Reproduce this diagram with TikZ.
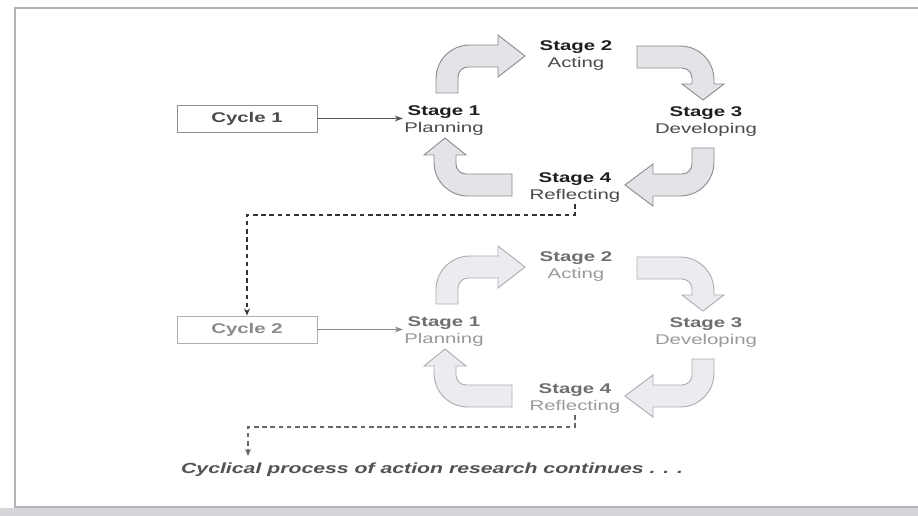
\documentclass[tikz,border=0pt]{standalone}
\usepackage{fontspec}
\setmainfont{Liberation Sans}[FakeStretch=1.45]
\usetikzlibrary{arrows.meta,calc}

\definecolor{framegray}{HTML}{B4B4B8}
\definecolor{scangray}{HTML}{D6D6DA}
\definecolor{fillcol1}{HTML}{E4E4E8}
\definecolor{fillcol2}{HTML}{ECECF0}
\definecolor{edgecol1}{HTML}{8E8E92}
\definecolor{edgecol2}{HTML}{AEAEB2}
\definecolor{stagecol1}{HTML}{1E1E1E}
\definecolor{stagecol2}{HTML}{6E6E6E}
\definecolor{subcol1}{HTML}{4A4A4A}
\definecolor{subcol2}{HTML}{9A9A9A}
\definecolor{linkcol1}{HTML}{555555}
\definecolor{linkcol2}{HTML}{8A8A8A}

% bent block arrow: position, rotation, stem length, reach, head length
\newcommand{\bentarrow}[6]{%
  \begin{scope}[shift={#1},rotate=#2]
    \filldraw[fill=fillcol#6,draw=edgecol#6,line width=0.8pt]
      (0,0) -- (0,{-#3+23}) .. controls (0,{-#3+4}) and (15,{-#3-11}) .. (34,{-#3-11})
      -- ({#4+11-#5},{-#3-11}) -- ({#4+11-#5},{-#3-21}) -- ({#4+11},{-#3})
      -- ({#4+11-#5},{-#3+21}) -- ({#4+11-#5},{-#3+11}) -- (32,{-#3+11})
      .. controls (26.5,{-#3+11}) and (22,{-#3+15.5}) .. (22,{-#3+21}) -- (22,0) -- cycle;
  \end{scope}}

\tikzset{
  stage/.style={align=center,inner sep=1pt,font=\fontsize{12}{14.5}\selectfont},
  cycbox/.style={draw,line width=0.8pt,minimum width=4.2cm,minimum height=0.81cm,
    inner sep=0pt,font=\fontsize{12}{14}\selectfont\bfseries},
  flow/.style={dashed,dash pattern=on 4pt off 3pt,-{Stealth[length=6pt,width=5pt]}},
  note/.style={font=\fontsize{12.5}{15}\selectfont\bfseries\itshape,text=black!68}
}

\begin{document}
\begin{tikzpicture}[x=0.03cm,y=-0.03cm]
  \useasboundingbox (0,0) rectangle (918,516);
  \fill[white] (0,0) rectangle (918,516);
  \fill[scangray] (0,508) rectangle (918,516);
  \draw[framegray,line width=1.2pt] (918,8) -- (15,8) -- (15,507) -- (918,507);

  \foreach \c/\dy in {1/0,2/211} {
    \node[cycbox,draw=edgecol\c,text=stagecol\c!80!white] (cyc\c) at (247,{118.5+\dy}) {Cycle \c};
    \node[stage,text=stagecol\c] (s1-\c) at (444,{121+\dy}) {\textbf{Stage 1}\\{\color{subcol\c}Planning}};
    \node[stage,text=stagecol\c] (s2-\c) at (576,{56+\dy}) {\textbf{Stage 2}\\{\color{subcol\c}Acting}};
    \node[stage,text=stagecol\c] (s3-\c) at (706,{122+\dy}) {\textbf{Stage 3}\\{\color{subcol\c}Developing}};
    \node[stage,text=stagecol\c] (s4-\c) at (575,{188+\dy}) {\textbf{Stage 4}\\{\color{subcol\c}Reflecting}};
    \draw[linkcol\c,line width=1.2pt,-{Stealth[length=7pt,width=5pt]}]
      (cyc\c.east) -- (cyc\c.east -| s1-\c.west);
    \bentarrow{(436,{93+\dy})}{0}{37}{78}{27}{\c}
    \bentarrow{(637,{46+\dy})}{-90}{66}{43}{16}{\c}
    \bentarrow{(714,{148+\dy})}{180}{37}{78}{28}{\c}
    \bentarrow{(512,{196+\dy})}{90}{67}{47}{17}{\c}
  }

  \coordinate (turn1) at (575,215);
  \coordinate (turn2) at (575,427);
  \coordinate (stop) at (248,456);
  \node[note,anchor=west] (note) at (177,470) {Cyclical process of action research continues . . .};

  \draw[flow,black!80,line width=1.3pt] (s4-1.south) |- (turn1) -| (cyc2.north);
  \draw[flow,black!60,line width=1pt] (s4-2.south) |- (turn2) -| (stop);
\end{tikzpicture}
\end{document}
